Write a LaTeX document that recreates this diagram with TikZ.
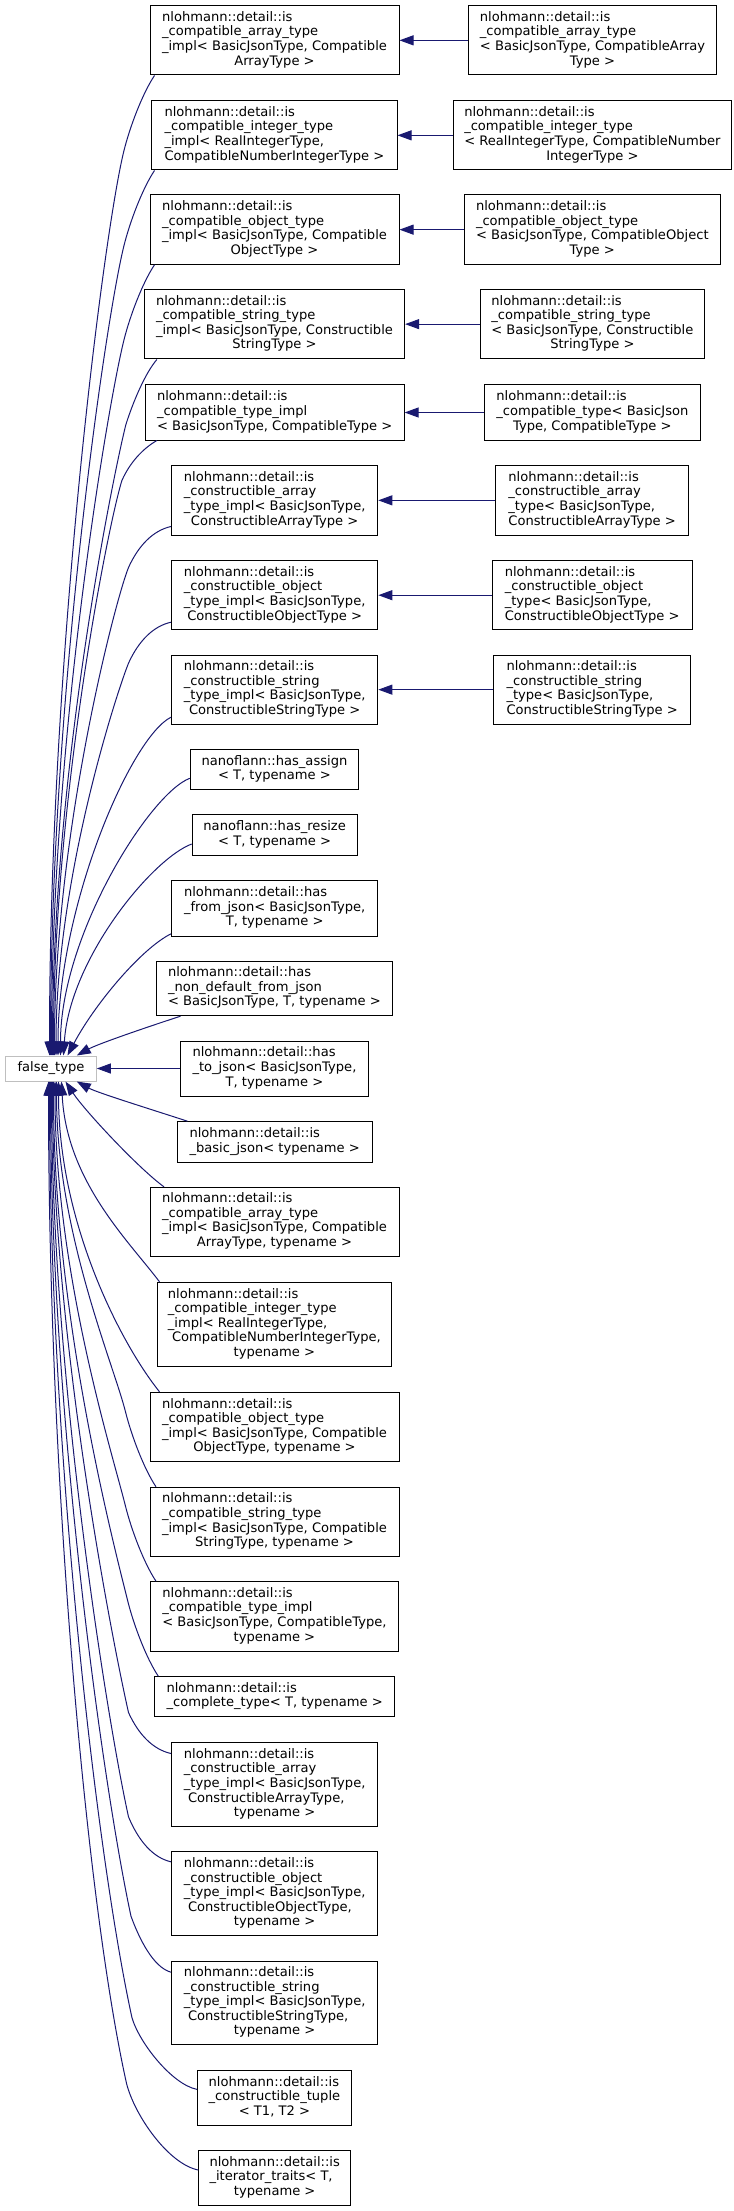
\documentclass[tikz,border=0pt]{standalone}
\usepackage{fontspec}
\setmainfont{DejaVu Sans}
\usetikzlibrary{arrows.meta,calc}
\definecolor{midnight}{HTML}{191970}
\definecolor{greyseventyfive}{HTML}{BFBFBF}
\newcommand\mylbl[2]{\begin{tabular}{@{}l@{}}#1\\\multicolumn{1}{@{}c@{}}{#2}\end{tabular}}
\newcommand\bx[6]{\node[#6, minimum width={(#4-#2)*0.75pt}, minimum height={(#5-#3)*0.75pt}] (#1) at ({(#2+#4)/2},{(#3+#5)/2})}
\begin{document}
\begin{tikzpicture}[x=0.75pt,y=-0.75pt,
  box/.style={draw=black,line width=0.75pt,fill=white,inner sep=0pt,anchor=center,font=\fontsize{9.81pt}{10.95pt}\selectfont},
  gbox/.style={box,draw=greyseventyfive},
  edge/.style={draw=midnight,line width=0.75pt,-{Triangle[length=10.5pt,width=7.5pt]}}]
\useasboundingbox (0,0) rectangle (733,2211);

% right column
\bx{r1}{468.5}{5.7}{716.6}{75}{box} {\mylbl{nlohmann::detail::is\\\_compatible\_array\_type\\< BasicJsonType, CompatibleArray}{Type >}};
\bx{r2}{453}{100.7}{731.7}{170}{box} {\mylbl{nlohmann::detail::is\\\_compatible\_integer\_type\\< RealIntegerType, CompatibleNumber}{IntegerType >}};
\bx{r3}{464.3}{195}{720.3}{264.3}{box} {\mylbl{nlohmann::detail::is\\\_compatible\_object\_type\\< BasicJsonType, CompatibleObject}{Type >}};
\bx{r4}{480.3}{289.3}{704.4}{359}{box} {\mylbl{nlohmann::detail::is\\\_compatible\_string\_type\\< BasicJsonType, Constructible}{StringType >}};
\bx{r5}{484.5}{385}{700.2}{440}{box} {\mylbl{nlohmann::detail::is\\\_compatible\_type< BasicJson}{Type, CompatibleType >}};
\bx{r6}{495.8}{465.7}{688.4}{535}{box} {\mylbl{nlohmann::detail::is\\\_constructible\_array\\\_type< BasicJsonType,}{ConstructibleArrayType >}};
\bx{r7}{492.1}{560.7}{692.2}{629.7}{box} {\mylbl{nlohmann::detail::is\\\_constructible\_object\\\_type< BasicJsonType,}{ConstructibleObjectType >}};
\bx{r8}{493.9}{655}{690.3}{724.3}{box} {\mylbl{nlohmann::detail::is\\\_constructible\_string\\\_type< BasicJsonType,}{ConstructibleStringType >}};

% middle column
\bx{a1}{150}{5.7}{399}{75}{box} {\mylbl{nlohmann::detail::is\\\_compatible\_array\_type\\\_impl< BasicJsonType, Compatible}{ArrayType >}};
\bx{a2}{151.8}{100.7}{397}{170}{box} {\mylbl{nlohmann::detail::is\\\_compatible\_integer\_type\\\_impl< RealIntegerType,}{CompatibleNumberIntegerType >}};
\bx{a3}{150}{195}{399}{264.3}{box} {\mylbl{nlohmann::detail::is\\\_compatible\_object\_type\\\_impl< BasicJsonType, Compatible}{ObjectType >}};
\bx{a4}{144.3}{289.3}{404.6}{359}{box} {\mylbl{nlohmann::detail::is\\\_compatible\_string\_type\\\_impl< BasicJsonType, Constructible}{StringType >}};
\bx{a5}{145.2}{385}{404.1}{440}{box} {\mylbl{nlohmann::detail::is\\\_compatible\_type\_impl}{< BasicJsonType, CompatibleType >}};
\bx{a6}{171.5}{465.7}{377.8}{535}{box} {\mylbl{nlohmann::detail::is\\\_constructible\_array\\\_type\_impl< BasicJsonType,}{ConstructibleArrayType >}};
\bx{a7}{171.5}{560.7}{377.8}{629.7}{box} {\mylbl{nlohmann::detail::is\\\_constructible\_object\\\_type\_impl< BasicJsonType,}{ConstructibleObjectType >}};
\bx{a8}{171.5}{655}{377.8}{724.3}{box} {\mylbl{nlohmann::detail::is\\\_constructible\_string\\\_type\_impl< BasicJsonType,}{ConstructibleStringType >}};
\bx{a9}{190.3}{749.7}{358.6}{789.7}{box} {\mylbl{nanoflann::has\_assign}{< T, typename >}};
\bx{a10}{192.2}{814.7}{357.1}{855}{box} {\mylbl{nanoflann::has\_resize}{< T, typename >}};
\bx{a11}{171.5}{880.7}{377.8}{936}{box} {\mylbl{nlohmann::detail::has\\\_from\_json< BasicJsonType,}{T, typename >}};
\bx{a12}{156.5}{961}{392.4}{1015.7}{box} {\mylbl{nlohmann::detail::has\\\_non\_default\_from\_json}{< BasicJsonType, T, typename >}};
\bx{a13}{180.5}{1041}{368.4}{1096}{box} {\mylbl{nlohmann::detail::has\\\_to\_json< BasicJsonType,}{T, typename >}};
\bx{a14}{177.2}{1121.7}{372.2}{1162.3}{box} {\mylbl{nlohmann::detail::is}{\_basic\_json< typename >}};
\bx{a15}{150}{1187.3}{399}{1256}{box} {\mylbl{nlohmann::detail::is\\\_compatible\_array\_type\\\_impl< BasicJsonType, Compatible}{ArrayType, typename >}};
\bx{a16}{157.4}{1282.3}{391.4}{1366.3}{box} {\mylbl{nlohmann::detail::is\\\_compatible\_integer\_type\\\_impl< RealIntegerType,\\\ CompatibleNumberIntegerType,}{typename >}};
\bx{a17}{150}{1392.3}{399}{1461.7}{box} {\mylbl{nlohmann::detail::is\\\_compatible\_object\_type\\\_impl< BasicJsonType, Compatible}{ObjectType, typename >}};
\bx{a18}{150}{1487.3}{399}{1556.3}{box} {\mylbl{nlohmann::detail::is\\\_compatible\_string\_type\\\_impl< BasicJsonType, Compatible}{StringType, typename >}};
\bx{a19}{150.4}{1581.7}{398.5}{1651}{box} {\mylbl{nlohmann::detail::is\\\_compatible\_type\_impl\\< BasicJsonType, CompatibleType,}{typename >}};
\bx{a20}{154.6}{1676.7}{394.7}{1716.3}{box} {\mylbl{nlohmann::detail::is}{\_complete\_type< T, typename >}};
\bx{a21}{171.5}{1742.7}{377.8}{1826.3}{box} {\mylbl{nlohmann::detail::is\\\_constructible\_array\\\_type\_impl< BasicJsonType,\\\ ConstructibleArrayType,}{typename >}};
\bx{a22}{171.5}{1851.7}{377.8}{1935.7}{box} {\mylbl{nlohmann::detail::is\\\_constructible\_object\\\_type\_impl< BasicJsonType,\\\ ConstructibleObjectType,}{typename >}};
\bx{a23}{171.5}{1961}{377.8}{2044.7}{box} {\mylbl{nlohmann::detail::is\\\_constructible\_string\\\_type\_impl< BasicJsonType,\\\ ConstructibleStringType,}{typename >}};
\bx{a24}{197.4}{2070.7}{351.5}{2125}{box} {\mylbl{nlohmann::detail::is\\\_constructible\_tuple}{< T1, T2 >}};
\bx{a25}{198.8}{2150.7}{350.6}{2205}{box} {\mylbl{nlohmann::detail::is\\\_iterator\_traits< T,}{typename >}};

% root
\bx{ft}{5.6}{1056}{96.3}{1081}{gbox} {false\_type};

% pair edges
\foreach \i in {1,...,8} {\draw[edge] (r\i.west) -- (a\i.east);}
\draw[edge] (a13.west) -- (ft.east);

% upper edges
\draw[edge] ($(a1.south west)+(5,0)$) .. controls +(-12,18) and +(6,-24) .. ($(a1.south west)+(-25.5,75)$) .. controls +(-20,80) and +(0,-400) .. ($(ft.north west)+(44.4,0)$);
\draw[edge] ($(a2.south west)+(3.2,0)$) .. controls +(-12,18) and +(6,-24) .. ($(a2.south west)+(-27.3,75)$) .. controls +(-18,72) and +(0,-360) .. ($(ft.north west)+(45.4,0)$);
\draw[edge] ($(a3.south west)+(5,0)$) .. controls +(-12,18) and +(6,-24) .. ($(a3.south west)+(-25.5,75)$) .. controls +(-16,64) and +(0,-320) .. ($(ft.north west)+(46.4,0)$);
\draw[edge] ($(a4.south west)+(13.1,0)$) .. controls +(-12,14) and +(7,-22) .. ($(a4.south west)+(-17.9,65)$) .. controls +(-14,56) and +(0,-280) .. ($(ft.north west)+(47.4,0)$);
\draw[edge] ($(a5.south west)+(12.2,0)$) .. controls +(-14,8) and +(8,-18) .. ($(a5.south west)+(-22.8,40)$) .. controls +(-14,45) and +(0,-255) .. ($(ft.north west)+(48.4,0)$);
\draw[edge] ($(a6.south west)+(0,-9)$) .. controls +(-18,4) and +(10,-22) .. ($(a6.south west)+(-42.5,32)$) .. controls +(-14,35) and +(0,-220) .. ($(ft.north west)+(49.4,0)$);
\draw[edge] ($(a7.south west)+(0,-8)$) .. controls +(-18,4) and +(10,-22) .. ($(a7.south west)+(-42.5,33)$) .. controls +(-12,30) and +(0,-177) .. ($(ft.north west)+(50.9,0)$);
\draw[edge] ($(a8.south west)+(0,-7.6)$) .. controls +(-40,20) and +(0,-150) .. ($(ft.north west)+(52.9,0)$);
\draw[edge] ($(a9.west)+(0,8.6)$) .. controls +(-40,15) and +(0,-120) .. ($(ft.north west)+(55.4,0)$);
\draw[edge] ($(a10.west)+(0,9.15)$) .. controls +(-40,15) and +(6,-96) .. ($(ft.north west)+(58.4,0)$);
\draw[edge] ($(a11.south west)+(0,-2.7)$) .. controls +(-30,15) and +(27,-51) .. ($(ft.north west)+(62.4,0)$);
\draw[edge] ($(a12.south west)+(24.5,0)$) .. controls +(-40,13) and +(20,-11) .. ($(ft.north west)+(71.7,0)$);

% lower edges
\draw[edge] ($(a14.north west)+(10.8,0)$) .. controls +(-40,-13) and +(20,11) .. ($(ft.south west)+(71.7,0)$);
\draw[edge] ($(a15.north west)+(14.5,0)$) .. controls +(-25,-18) and +(19,29) .. ($(ft.south west)+(60.4,0)$);
\draw[edge] ($(a16.north west)+(2.6,0)$) .. controls +(-30,-40) and +(5,100) .. ($(ft.south west)+(56.4,0)$);
\draw[edge] ($(a17.north west)+(10,0)$) .. controls +(-40,-50) and +(0,140) .. ($(ft.south west)+(53.4,0)$);
\draw[edge] ($(a18.north west)+(6.5,0)$) .. controls +(-12,-18) and +(6,24) .. ($(a18.north west)+(-24,-75)$) .. controls +(-12,-48) and +(0,150) .. ($(ft.south west)+(51.4,0)$);
\draw[edge] ($(a19.north west)+(6.1,0)$) .. controls +(-12,-18) and +(6,24) .. ($(a19.north west)+(-24.4,-75)$) .. controls +(-14,-56) and +(0,190) .. ($(ft.south west)+(49.9,0)$);
\draw[edge] ($(a20.north west)+(4.2,0)$) .. controls +(-12,-18) and +(6,24) .. ($(a20.north west)+(-26.3,-75)$) .. controls +(-16,-64) and +(0,230) .. ($(ft.south west)+(48.4,0)$);
\draw[edge] ($(a21.north west)+(0,11.3)$) .. controls +(-18,-4) and +(10,22) .. ($(a21.north west)+(-42.5,-29.7)$) .. controls +(-18,-80) and +(0,250) .. ($(ft.south west)+(47.4,0)$);
\draw[edge] ($(a22.north west)+(0,10.6)$) .. controls +(-18,-4) and +(10,24) .. ($(a22.north west)+(-42.5,-34.4)$) .. controls +(-22,-100) and +(0,290) .. ($(ft.south west)+(46.4,0)$);
\draw[edge] ($(a23.north west)+(0,11.7)$) .. controls +(-18,-5) and +(8,22) .. ($(a23.north west)+(-40,-44.3)$) .. controls +(-28,-130) and +(0,330) .. ($(ft.south west)+(45.4,0)$);
\draw[edge] ($(a24.west)+(0,-8.5)$) .. controls +(-25,-5) and +(7,25) .. ($(a24.west)+(-65,-80.5)$) .. controls +(-35,-160) and +(0,370) .. ($(ft.south west)+(44.4,0)$);
\draw[edge] ($(a25.west)+(0,-7.85)$) .. controls +(-30,-6) and +(8,32) .. ($(a25.west)+(-71.8,-94.55)$) .. controls +(-40,-180) and +(0,400) .. ($(ft.south west)+(43.4,0)$);
\end{tikzpicture}
\end{document}
